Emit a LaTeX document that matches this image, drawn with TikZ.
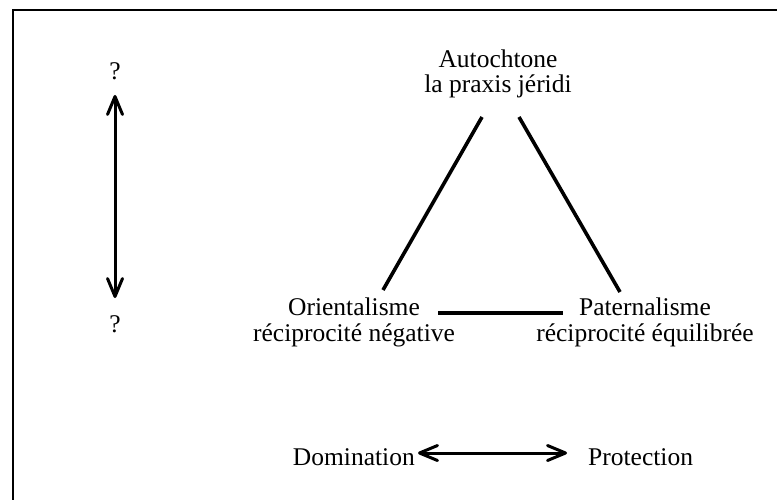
\documentclass[tikz,border=0pt]{standalone}
\usepackage{fontspec}
\setmainfont{Liberation Serif}
\usetikzlibrary{arrows.meta}
\begin{document}
\begin{tikzpicture}[x=1pt,y=-1pt,
  lbl/.style={font=\fontsize{25.5}{25.5}\selectfont, inner sep=0pt, align=center},
  edge/.style={line width=3.6pt},
  tip/.tip={Straight Barb[length=18pt,width=15pt,line width=3pt,round]},
  dbl/.style={line width=3pt, tip-tip},
  frame/.style={line width=2.5pt}]
\useasboundingbox (0,0) rectangle (777,500);
\draw[frame] (13,505) -- (13,10) -- (782,10);
% text
\node[lbl, anchor=base] (auto) at (498,93) {Autochtone\\la praxis jéridi};
\node[lbl, anchor=base] (orient) at (354,341) {Orientalisme\\réciprocité négative};
\node[lbl, anchor=base] (pater) at (645,341) {Paternalisme\\réciprocité équilibrée};
\node[lbl, anchor=base east] (dom) at (415,465) {Domination};
\node[lbl, anchor=base west] (prot) at (588,465) {Protection};
\node[lbl, anchor=base] (q1) at (115,80) {?};
\node[lbl, anchor=base] (q2) at (115,332) {?};
% triangle
\coordinate (a1) at (482,117);
\coordinate (o1) at (383,290);
\coordinate (a2) at (519,117);
\coordinate (p1) at (620,292);
\coordinate (o2) at (438,313);
\coordinate (p2) at (563,313);
\draw[edge] (a1) -- (o1);
\draw[edge] (a2) -- (p1);
\draw[edge] (o2) -- (p2);
% arrows
\draw[dbl] ([yshift=-15pt]q1.base) -- ([yshift=34pt]q2.base);
\draw[dbl] ([xshift=3pt,yshift=12pt]dom.base east) -- ([xshift=-21pt,yshift=12pt]prot.base west);
\end{tikzpicture}
\end{document}
